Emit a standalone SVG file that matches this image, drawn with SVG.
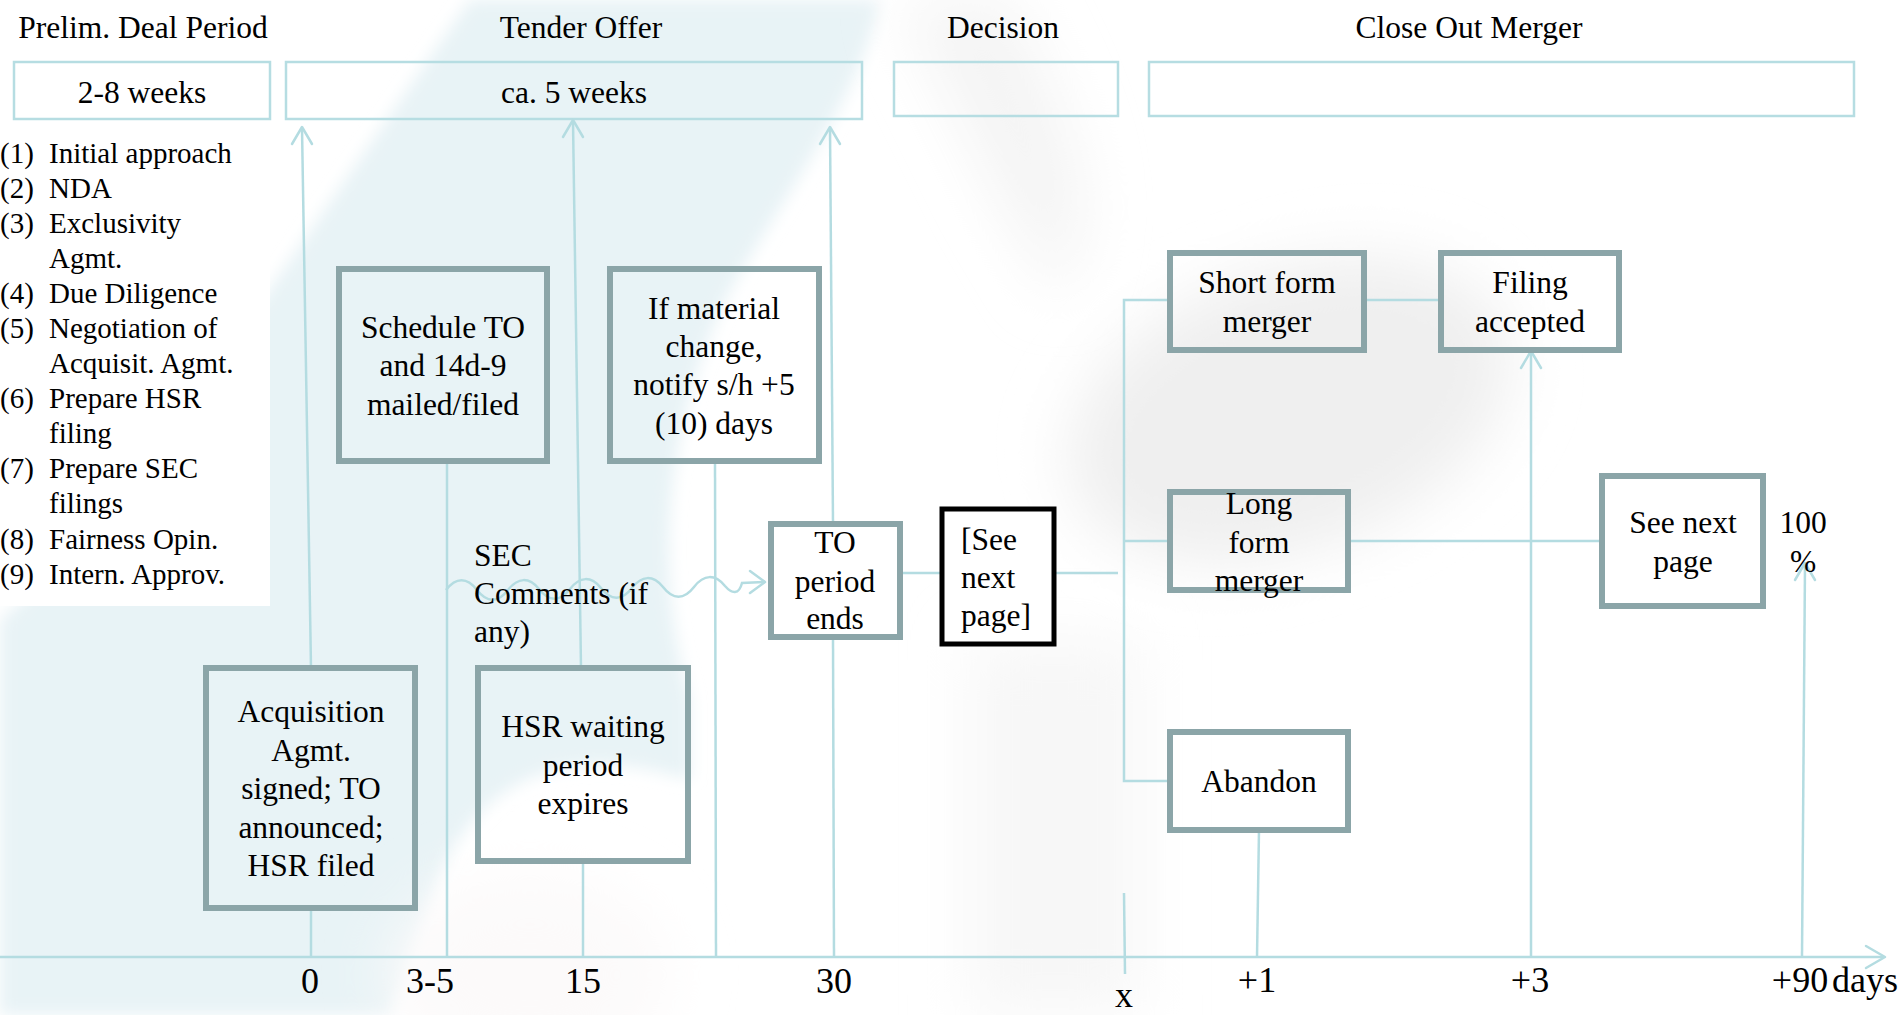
<svg xmlns="http://www.w3.org/2000/svg" width="1899" height="1015" viewBox="0 0 1899 1015">
<defs>
<style>
.t{font-family:"Liberation Serif","Times New Roman",serif;font-size:31.5px;fill:#000;text-anchor:middle}
.l{font-family:"Liberation Serif","Times New Roman",serif;font-size:29px;fill:#000}
.k{font-family:"Liberation Serif","Times New Roman",serif;font-size:36px;fill:#000;text-anchor:middle}
.s{text-anchor:start}
.hb{fill:none;stroke:#b6dde2;stroke-width:2.5}
.nb{fill:none;stroke:#8ba5a8;stroke-width:6}
.c{fill:none;stroke:#b4dce1;stroke-width:2.5}
.ah{fill:none;stroke:#b4dce1;stroke-width:2.5;stroke-linecap:round;stroke-linejoin:round}
</style>
<filter id="b8" x="-20%" y="-20%" width="140%" height="140%"><feGaussianBlur stdDeviation="8"/></filter>
<filter id="b30" x="-50%" y="-50%" width="200%" height="200%"><feGaussianBlur stdDeviation="30"/></filter>
</defs>
<rect width="1899" height="1015" fill="#ffffff"/>
<g id="background">
<path d="M470,0 L880,0 C860,100 780,200 725,300 C670,420 650,560 690,700 L690,780 C560,740 470,780 430,900 L390,1015 L0,1015 L0,620 C120,520 240,330 470,0 Z" fill="#e8f3f6" filter="url(#b8)"/>
<ellipse cx="530" cy="975" rx="140" ry="100" fill="#fcfafa" filter="url(#b30)"/>
<ellipse cx="1290" cy="410" rx="230" ry="140" fill="#efefef" transform="rotate(-20 1290 410)" filter="url(#b30)"/>
<path d="M900,0 L1010,0 C1070,120 1110,200 1060,300 L1000,200 Z" fill="#f4f4f4" filter="url(#b30)"/>
<rect x="970" y="640" width="170" height="375" fill="#f7f7f7" filter="url(#b30)"/>
</g>
<rect x="0" y="132" width="270" height="474" fill="#ffffff"/>
<g id="headers">
<text class="t" x="143" y="38">Prelim. Deal Period</text>
<text class="t" x="581" y="38">Tender Offer</text>
<text class="t" x="1003" y="38">Decision</text>
<text class="t" x="1469" y="38">Close Out Merger</text>
<rect class="hb" x="14" y="62" width="256" height="57"/>
<text class="t" x="142" y="103">2-8 weeks</text>
<rect class="hb" x="286" y="62" width="576" height="57"/>
<text class="t" x="574" y="103">ca. 5 weeks</text>
<rect class="hb" x="894" y="62" width="224" height="54"/>
<rect class="hb" x="1149" y="62" width="705" height="54"/>
</g>
<g id="list">
<text class="l" x="0" y="163">(1)</text><text class="l" x="49" y="163">Initial approach</text>
<text class="l" x="0" y="198">(2)</text><text class="l" x="49" y="198">NDA</text>
<text class="l" x="0" y="233">(3)</text><text class="l" x="49" y="233">Exclusivity</text>
<text class="l" x="49" y="268">Agmt.</text>
<text class="l" x="0" y="303">(4)</text><text class="l" x="49" y="303">Due Diligence</text>
<text class="l" x="0" y="338">(5)</text><text class="l" x="49" y="338">Negotiation of</text>
<text class="l" x="49" y="373">Acquisit. Agmt.</text>
<text class="l" x="0" y="408">(6)</text><text class="l" x="49" y="408">Prepare HSR</text>
<text class="l" x="49" y="443">filing</text>
<text class="l" x="0" y="478">(7)</text><text class="l" x="49" y="478">Prepare SEC</text>
<text class="l" x="49" y="513">filings</text>
<text class="l" x="0" y="549">(8)</text><text class="l" x="49" y="549">Fairness Opin.</text>
<text class="l" x="0" y="584">(9)</text><text class="l" x="49" y="584">Intern. Approv.</text>
</g>
<g id="connectors">
<line class="c" x1="0" y1="957" x2="1884" y2="957" stroke-width="4"/>
<polyline class="ah" points="1866,946 1885,957 1866,968" stroke-width="3.5"/>
<line class="c" x1="302" y1="128" x2="311" y2="668"/>
<polyline class="ah" points="292,144 302,127 312,144"/>
<line class="c" x1="311" y1="908" x2="311" y2="957"/>
<line class="c" x1="573" y1="121" x2="581" y2="668"/>
<polyline class="ah" points="563,137 573,120 583,137"/>
<line class="c" x1="583" y1="861" x2="583" y2="957"/>
<line class="c" x1="830" y1="128" x2="833" y2="523"/>
<polyline class="ah" points="820,144 830,127 840,144"/>
<line class="c" x1="833" y1="638" x2="834" y2="957"/>
<line class="c" x1="447" y1="461" x2="447" y2="957"/>
<line class="c" x1="715" y1="461" x2="716" y2="957"/>
<path class="c" d="M446,590 c10,-13 21,-13 31,0 c10,13 21,13 31,0 c10,-13 21,-13 31,-1 c10,13 21,13 31,0 c10,-13 21,-13 31,-1 c10,13 21,13 31,0 c10,-13 21,-13 31,-1 c10,13 21,13 31,0 c10,-13 21,-13 31,-1 c7,8 14,9 17,-3 L765,582"/>
<polyline class="ah" points="750,571 765,582 750,593"/>
<line class="c" x1="901" y1="573" x2="940" y2="573"/>
<line class="c" x1="1056" y1="573" x2="1118" y2="573"/>
<polyline class="c" points="1170,300 1124,300 1124,781 1170,781"/>
<line class="c" x1="1124" y1="541" x2="1170" y2="541"/>
<line class="c" x1="1364" y1="300" x2="1441" y2="300"/>
<line class="c" x1="1348" y1="541" x2="1602" y2="541"/>
<line class="c" x1="1259" y1="830" x2="1257" y2="957"/>
<line class="c" x1="1531" y1="957" x2="1531" y2="352"/>
<polyline class="ah" points="1521,368 1531,351 1541,368"/>
<line class="c" x1="1802" y1="957" x2="1805" y2="564"/>
<polyline class="ah" points="1795,580 1805,563 1815,580"/>
<line class="c" x1="1124" y1="893" x2="1125" y2="974"/>
</g>
<g id="n-acq">
<rect class="nb" x="206" y="668" width="209" height="240"/>
<text class="t" x="311" y="722">Acquisition</text>
<text class="t" x="311" y="761">Agmt.</text>
<text class="t" x="311" y="799">signed; TO</text>
<text class="t" x="311" y="838">announced;</text>
<text class="t" x="311" y="876">HSR filed</text>
</g>
<g id="n-sched">
<rect class="nb" x="339" y="269" width="208" height="192"/>
<text class="t" x="443" y="338">Schedule TO</text>
<text class="t" x="443" y="376">and 14d-9</text>
<text class="t" x="443" y="415">mailed/filed</text>
</g>
<g id="n-material">
<rect class="nb" x="610" y="269" width="209" height="192"/>
<text class="t" x="714" y="319">If material</text>
<text class="t" x="714" y="357">change,</text>
<text class="t" x="714" y="395">notify s/h +5</text>
<text class="t" x="714" y="434">(10) days</text>
</g>
<g id="n-hsr">
<rect class="nb" x="478" y="668" width="210" height="193" fill="#ffffff"/>
<text class="t" x="583" y="737">HSR waiting</text>
<text class="t" x="583" y="776">period</text>
<text class="t" x="583" y="814">expires</text>
</g>
<g id="n-sec">
<text class="t s" x="474" y="566">SEC</text>
<text class="t s" x="474" y="604">Comments (if</text>
<text class="t s" x="474" y="642">any)</text>
</g>
<g id="n-toend">
<rect class="nb" x="771" y="524" width="129" height="113"/>
<text class="t" x="835" y="553">TO</text>
<text class="t" x="835" y="592">period</text>
<text class="t" x="835" y="629">ends</text>
</g>
<g id="n-seenext1">
<rect x="942" y="509" width="112" height="135" fill="#ffffff" stroke="#000" stroke-width="5"/>
<text class="t s" x="961" y="550">[See</text>
<text class="t s" x="961" y="588">next</text>
<text class="t s" x="961" y="626">page]</text>
</g>
<g id="n-short">
<rect class="nb" x="1170" y="253" width="194" height="97"/>
<text class="t" x="1267" y="293">Short form</text>
<text class="t" x="1267" y="332">merger</text>
</g>
<g id="n-filing">
<rect class="nb" x="1441" y="253" width="178" height="97"/>
<text class="t" x="1530" y="293">Filing</text>
<text class="t" x="1530" y="332">accepted</text>
</g>
<g id="n-long">
<rect class="nb" x="1170" y="492" width="178" height="98"/>
<text class="t" x="1259" y="514">Long</text>
<text class="t" x="1259" y="553">form</text>
<text class="t" x="1259" y="591">merger</text>
</g>
<g id="n-seenext2">
<rect class="nb" x="1602" y="476" width="161" height="130"/>
<text class="t" x="1683" y="533">See next</text>
<text class="t" x="1683" y="572">page</text>
</g>
<g id="n-100">
<text class="t" x="1803" y="533">100</text>
<text class="t" x="1803" y="572">%</text>
</g>
<g id="n-abandon">
<rect class="nb" x="1170" y="732" width="178" height="98"/>
<text class="t" x="1259" y="792">Abandon</text>
</g>
<g id="ticks">
<text class="k" x="310" y="993">0</text>
<text class="k" x="430" y="993">3-5</text>
<text class="k" x="583" y="993">15</text>
<text class="k" x="834" y="993">30</text>
<text class="k" x="1124" y="1007">x</text>
<text class="k" x="1257" y="992">+1</text>
<text class="k" x="1530" y="992">+3</text>
<text class="k" x="1800" y="992">+90</text>
<text class="k s" x="1832" y="992">days</text>
</g>
</svg>
